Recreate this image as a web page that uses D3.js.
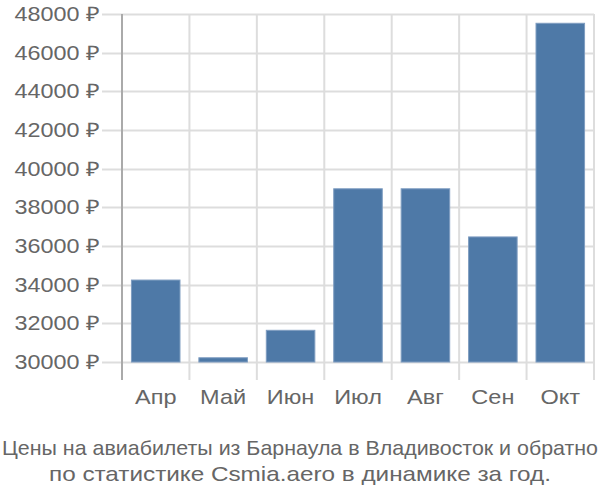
<!DOCTYPE html>
<html>
<head>
<meta charset="utf-8">
<script src="https://cdn.jsdelivr.net/npm/d3@7"></script>
<style>
  body { margin: 0; background: #fff; }
  text { font-family: "Liberation Sans", Arial, sans-serif; }
</style>
</head>
<body>
<svg id="chart" width="600" height="500"></svg>
<script>
const months = ["Апр", "Май", "Июн", "Июл", "Авг", "Сен", "Окт"];
const prices = [34240, 30220, 31640, 38960, 38960, 36470, 47520];
const yTicks = [30000, 32000, 34000, 36000, 38000, 40000, 42000, 44000, 46000, 48000];
const titleLines = [
  "Цены на авиабилеты из Барнаула в Владивосток и обратно",
  "по статистике Csmia.aero в динамике за год."
];

const svg = d3.select("#chart");
const plotLeft = 122, plotRight = 594, plotTop = 14, plotBottom = 380;

const x = d3.scaleBand().domain(months).range([plotLeft, plotRight]).paddingInner(0.28).paddingOuter(0.14);
const y = d3.scaleLinear().domain([29070, 48000]).range([plotBottom, plotTop]);

// horizontal grid
svg.append("g")
  .selectAll("line")
  .data(yTicks)
  .join("line")
  .attr("x1", plotLeft - 20)
  .attr("x2", plotRight)
  .attr("y1", d => Math.round(y(d)) + 0.5)
  .attr("y2", d => Math.round(y(d)) + 0.5)
  .style("stroke", "#dddddd")
  .style("stroke-width", 2);

// vertical grid (band edges)
const edges = months.map(m => x(m) - x.step() * x.paddingInner() / 2).concat([plotRight]);
svg.append("g")
  .selectAll("line")
  .data(edges.slice(1))
  .join("line")
  .attr("x1", d => d)
  .attr("x2", d => d)
  .attr("y1", plotTop)
  .attr("y2", plotBottom)
  .style("stroke", "#dddddd")
  .style("stroke-width", 2);

// bars
svg.append("g")
  .selectAll("rect")
  .data(prices)
  .join("rect")
  .attr("x", (d, i) => x(months[i]))
  .attr("width", x.bandwidth())
  .attr("y", d => y(d))
  .attr("height", d => y(30000) - y(d))
  .attr("fill", "#4e79a7")
  .style("stroke", "#7f9dc1")
  .style("stroke-width", 1);

// y axis line
svg.append("line")
  .attr("x1", plotLeft).attr("x2", plotLeft)
  .attr("y1", plotTop).attr("y2", plotBottom)
  .style("stroke", "#aaaaaa")
  .style("stroke-width", 2);

// y tick labels (slightly wide type, like the reference)
svg.append("g")
  .selectAll("text")
  .data(yTicks)
  .join("text")
  .attr("transform", d => `translate(100,${y(d)}) scale(1.17,1)`)
  .attr("dy", "0.35em")
  .attr("text-anchor", "end")
  .style("font-size", "20px")
  .style("fill", "#666")
  .text(d => d + " ₽");

// x labels
svg.append("g")
  .selectAll("text")
  .data(months)
  .join("text")
  .attr("transform", d => `translate(${x(d) + x.bandwidth() / 2},404) scale(1.12,1)`)
  .attr("text-anchor", "middle")
  .style("font-size", "21px")
  .style("fill", "#666")
  .text(d => d);

// title
svg.append("g")
  .selectAll("text")
  .data(titleLines)
  .join("text")
  .attr("x", 300)
  .attr("y", (d, i) => 455 + i * 26)
  .attr("text-anchor", "middle")
  .attr("textLength", (d, i) => i == 0 ? 596 : 502)
  .attr("lengthAdjust", "spacingAndGlyphs")
  .style("font-size", "21px")
  .style("fill", "#666")
  .text(d => d);
</script>
</body>
</html>
